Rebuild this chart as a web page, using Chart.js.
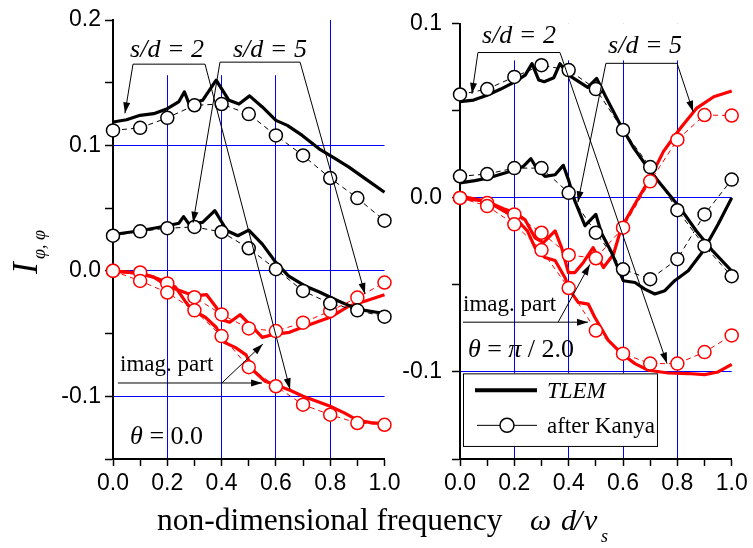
<!DOCTYPE html>
<html>
<head>
<meta charset="utf-8">
<script src="https://cdn.jsdelivr.net/npm/chart.js@4.4.1/dist/chart.umd.min.js"></script>
<style>
  html, body { margin: 0; padding: 0; background: #fff; }
  #page { position: relative; width: 753px; height: 548px; overflow: hidden; background: #fff; }
  canvas { position: absolute; top: 0; }
</style>
</head>
<body>
<div id="page">
  <canvas id="leftChart" width="420" height="548" style="left:0px"></canvas>
  <canvas id="rightChart" width="373" height="548" style="left:380px"></canvas>
  <canvas id="titles" width="753" height="548" style="left:0px"></canvas>
</div>
<script>
// frequencies of the "after Kanya" points
const KX = [0, 0.1, 0.2, 0.3, 0.4, 0.5, 0.6, 0.7, 0.8, 0.9, 1.0];
const X_TICKS = [0, 0.1, 0.2, 0.3, 0.4, 0.5, 0.6, 0.7, 0.8, 0.9, 1.0];
const X_GRID = [0.2, 0.4, 0.6, 0.8];
const Y_TICKS_LEFT = [-0.15, -0.1, -0.05, 0, 0.05, 0.1, 0.15, 0.2];
const Y_TICKS_RIGHT = [-0.15, -0.1, -0.05, 0, 0.05, 0.1];
const Y_GRID_LEFT = [0.1, 0, -0.1];
const Y_GRID_RIGHT = [0, -0.1];

// theta = 0.0 panel
const L_kanyaRe2 = [0.112, 0.114, 0.122, 0.132, 0.133, 0.125, 0.108, 0.092, 0.074, 0.058, 0.040];
const L_kanyaRe5 = [0.028, 0.0315, 0.034, 0.035, 0.031, 0.018, 0.0013, -0.016, -0.026, -0.0315, -0.0365];
const L_kanyaIm2 = [0, -0.008, -0.0173, -0.0315, -0.052, -0.0768, -0.092, -0.1067, -0.1147, -0.1213, -0.1227];
const L_kanyaIm5 = [0, -0.0013, -0.010, -0.021, -0.0347, -0.0459, -0.048, -0.0413, -0.032, -0.0213, -0.0093];

const L_tlemRe2X = [0, 0.05, 0.1, 0.15, 0.2, 0.243, 0.263, 0.28, 0.33, 0.38, 0.427, 0.464, 0.503, 0.55, 0.6, 0.642, 0.697, 0.759, 0.82, 0.869, 0.93, 1.0];
const L_tlemRe2Y = [0.1187, 0.1205, 0.124, 0.1253, 0.1293, 0.135, 0.1427, 0.1333, 0.136, 0.152, 0.136, 0.133, 0.1395, 0.1307, 0.120, 0.116, 0.108, 0.0973, 0.0893, 0.0827, 0.0733, 0.0627];
const L_tlemRe5X = [0, 0.1, 0.2, 0.243, 0.26, 0.28, 0.33, 0.375, 0.42, 0.46, 0.5, 0.55, 0.6, 0.646, 0.707, 0.756, 0.83, 0.903, 1.0];
const L_tlemRe5Y = [0.029, 0.032, 0.036, 0.038, 0.0432, 0.0373, 0.0387, 0.048, 0.032, 0.028, 0.0325, 0.0213, 0.0067, -0.004, -0.012, -0.0165, -0.024, -0.0307, -0.034];
const L_tlemIm2X = [0, 0.1, 0.15, 0.2, 0.23, 0.265, 0.29, 0.34, 0.38, 0.41, 0.45, 0.49, 0.52, 0.56, 0.6, 0.65, 0.7, 0.75, 0.8, 0.85, 0.9, 0.95, 1.0];
const L_tlemIm2Y = [0, -0.002, -0.005, -0.009, -0.013, -0.024, -0.031, -0.037, -0.045, -0.057, -0.061, -0.067, -0.080, -0.088, -0.091, -0.095, -0.100, -0.104, -0.108, -0.113, -0.119, -0.121, -0.122];
const L_tlemIm5X = [0, 0.1, 0.15, 0.2, 0.25, 0.3, 0.345, 0.38, 0.4, 0.43, 0.468, 0.51, 0.55, 0.59, 0.65, 0.71, 0.8, 0.87, 0.93, 1.0];
const L_tlemIm5Y = [0, -0.002, -0.005, -0.012, -0.016, -0.020, -0.019, -0.029, -0.039, -0.041, -0.035, -0.044, -0.053, -0.0507, -0.049, -0.044, -0.037, -0.028, -0.024, -0.019];

// theta = pi/2 panel
const R_kanyaRe2 = [0.0594, 0.0625, 0.0695, 0.0762, 0.0734, 0.0625, 0.039, 0.0177, -0.0071, -0.0276, -0.045];
const R_kanyaRe5 = [0.0124, 0.0137, 0.0171, 0.0171, 0.0029, -0.020, -0.041, -0.0467, -0.0352, -0.0095, 0.0105];
const R_kanyaIm2 = [0, -0.0047, -0.0152, -0.030, -0.0518, -0.0762, -0.0895, -0.0952, -0.0952, -0.0886, -0.079];
const R_kanyaIm5 = [0, -0.0029, -0.0095, -0.020, -0.0328, -0.0347, -0.0171, 0.0095, 0.0334, 0.0476, 0.0473];

const R_tlemRe2X = [0, 0.05, 0.1, 0.15, 0.2, 0.24, 0.265, 0.29, 0.31, 0.345, 0.368, 0.4, 0.43, 0.47, 0.503, 0.54, 0.59, 0.64, 0.7, 0.76, 0.81, 0.87, 0.93, 1.0];
const R_tlemRe2Y = [0.0553, 0.0562, 0.059, 0.0625, 0.0665, 0.0705, 0.0771, 0.0677, 0.0667, 0.069, 0.0771, 0.0705, 0.0675, 0.0635, 0.0686, 0.057, 0.042, 0.0286, 0.0153, 0.0038, -0.0057, -0.019, -0.0305, -0.042];
const R_tlemRe5X = [0, 0.055, 0.104, 0.165, 0.202, 0.233, 0.261, 0.282, 0.313, 0.35, 0.38, 0.399, 0.423, 0.46, 0.5, 0.52, 0.558, 0.601, 0.644, 0.68, 0.717, 0.754, 0.79, 0.84, 0.895, 0.95, 1.0];
const R_tlemRe5Y = [0.0086, 0.0099, 0.0114, 0.0143, 0.0162, 0.0181, 0.0225, 0.0171, 0.0124, 0.0133, 0.0187, 0.0105, -0.0019, -0.016, -0.0095, -0.020, -0.0314, -0.0476, -0.0486, -0.0524, -0.0552, -0.0533, -0.0476, -0.0419, -0.0305, -0.0152, 0.0];
const R_tlemIm2X = [0, 0.1, 0.2, 0.248, 0.276, 0.313, 0.35, 0.386, 0.405, 0.435, 0.472, 0.496, 0.546, 0.595, 0.644, 0.693, 0.766, 0.84, 0.9, 0.95, 1.0];
const R_tlemIm2Y = [0, -0.002, -0.011, -0.019, -0.0286, -0.0343, -0.036, -0.0457, -0.0533, -0.060, -0.061, -0.0686, -0.0819, -0.0895, -0.0952, -0.099, -0.1006, -0.1009, -0.1015, -0.100, -0.0956];
const R_tlemIm5X = [0, 0.1, 0.166, 0.202, 0.239, 0.276, 0.307, 0.35, 0.374, 0.399, 0.423, 0.454, 0.49, 0.528, 0.565, 0.594, 0.65, 0.7, 0.749, 0.811, 0.87, 0.934, 1.0];
const R_tlemIm5Y = [0.001, -0.002, -0.0066, -0.0086, -0.0124, -0.0229, -0.0257, -0.019, -0.0286, -0.0429, -0.0429, -0.0371, -0.0286, -0.040, -0.0324, -0.0171, -0.0019, 0.0114, 0.0267, 0.040, 0.0514, 0.0581, 0.0614];

const BLACK = "#000000";
const RED = "#ff0000";
const BLUE = "#0000ff";
const SANS = '"Liberation Sans", Arial, sans-serif';
const SERIF = '"Liberation Serif", "Times New Roman", serif';

const near = (list, v) => list.some(g => Math.abs(g - v) < 1e-6);
const pts = (xs, ys) => xs.map((x, i) => ({ x: x, y: ys[i] }));

function tlem(xs, ys, color) {
    return { data: pts(xs, ys), showLine: true, borderColor: color, borderWidth: 3.2,
             pointRadius: 0, tension: 0, clip: false, order: 2, borderJoinStyle: "round" };
}

function kanya(ys, color) {
    return { data: pts(KX, ys), showLine: true, borderColor: color, borderWidth: 1,
             borderDash: [5, 4], pointRadius: 6.5, pointBorderWidth: 1.5,
             pointBorderColor: color, pointBackgroundColor: "#fff", tension: 0, clip: false, order: 1 };
}

function xScale() {
    return {
        type: "linear", min: 0, max: 1,
        afterBuildTicks: s => { s.ticks = X_TICKS.map(v => ({ value: v })); },
        afterFit: s => { s.height = 89; },
        ticks: {
            callback: v => (Math.round(v * 10) % 2 === 0 ? v.toFixed(1) : ""),
            font: { family: SANS, size: 23 }, color: BLACK, padding: 4, maxRotation: 0, autoSkip: false
        },
        grid: {
            color: c => (near(X_GRID, c.tick.value) ? BLUE : "rgba(0,0,0,0)"),
            lineWidth: 1, tickColor: BLACK, tickLength: 7, tickWidth: 1.5
        },
        border: { color: BLACK, width: 2 }
    };
}

function yScale(min, max, ticks, grid, width, pad) {
    return {
        type: "linear", min: min, max: max,
        afterBuildTicks: s => { s.ticks = ticks.map(v => ({ value: v })); },
        afterFit: s => { s.width = width; },
        ticks: {
            callback: v => (Math.round(v * 100) % 10 === 0 ? (Math.abs(v) < 1e-9 ? "0.0" : v.toFixed(1)) : ""),
            font: { family: SANS, size: 23 }, color: BLACK, padding: pad, autoSkip: false
        },
        grid: {
            color: c => (near(grid, c.tick.value) ? BLUE : "rgba(0,0,0,0)"),
            lineWidth: 1, tickColor: BLACK, tickLength: 8, tickWidth: 1.5
        },
        border: { color: BLACK, width: 2 }
    };
}

function arrowHead(ctx, x0, y0, x1, y1) {
    const a = Math.atan2(y1 - y0, x1 - x0), L = 11, W = 3.5;
    ctx.beginPath();
    ctx.moveTo(x1, y1);
    ctx.lineTo(x1 - L * Math.cos(a) + W * Math.sin(a), y1 - L * Math.sin(a) - W * Math.cos(a));
    ctx.lineTo(x1 - L * Math.cos(a) - W * Math.sin(a), y1 - L * Math.sin(a) + W * Math.cos(a));
    ctx.closePath();
    ctx.fill();
}

// annotation layer: labels, brackets and arrows placed in data units
function notes(spec) {
    return {
        id: "notes",
        beforeDatasetsDraw(chart) {
            const { ctx, scales: { x, y } } = chart;
            const c = spec.cover;
            const x0 = x.getPixelForValue(c[0]), x1 = x.getPixelForValue(c[1]);
            const y0 = y.getPixelForValue(c[2]), y1 = y.getPixelForValue(c[3]);
            ctx.save();
            ctx.fillStyle = "#fff";
            ctx.fillRect(x0, y0, x1 - x0, y1 - y0);
            ctx.restore();
        },
        afterDatasetsDraw(chart) {
            const { ctx, scales: { x, y } } = chart;
            const px = v => x.getPixelForValue(v), py = v => y.getPixelForValue(v);
            ctx.save();
            ctx.strokeStyle = BLACK;
            ctx.fillStyle = BLACK;
            ctx.lineWidth = 1;
            spec.lines.forEach(l => {
                ctx.beginPath();
                ctx.moveTo(px(l[0]), py(l[1]));
                ctx.lineTo(px(l[2]), py(l[3]));
                ctx.stroke();
            });
            spec.arrows.forEach(a => {
                const ax = px(a[0]), ay = py(a[1]), bx = px(a[2]), by = py(a[3]);
                ctx.beginPath();
                ctx.moveTo(ax, ay);
                ctx.lineTo(bx, by);
                ctx.stroke();
                arrowHead(ctx, ax, ay, bx, by);
            });
            ctx.textBaseline = "alphabetic";
            ctx.textAlign = "left";
            spec.texts.forEach(t => {
                let cx = px(t.x);
                t.parts.forEach(p => {
                    ctx.font = p[1];
                    ctx.fillText(p[0], cx, py(t.y));
                    cx += ctx.measureText(p[0]).width;
                });
            });
            if (spec.legend) {
                const g = spec.legend;
                const bx = px(g[0]), by = py(g[2]), bw = px(g[1]) - bx, bh = py(g[3]) - by;
                ctx.fillStyle = "#fff";
                ctx.fillRect(bx, by, bw, bh);
                ctx.strokeStyle = BLACK;
                ctx.lineWidth = 1;
                ctx.strokeRect(bx + 0.5, by + 0.5, bw, bh);
                ctx.lineWidth = 4;
                ctx.beginPath();
                ctx.moveTo(bx + 12, by + 17);
                ctx.lineTo(bx + 74, by + 17);
                ctx.stroke();
                ctx.lineWidth = 1;
                ctx.beginPath();
                ctx.moveTo(bx + 14, by + 52);
                ctx.lineTo(bx + 74, by + 52);
                ctx.stroke();
                ctx.beginPath();
                ctx.arc(bx + 44, by + 52, 7, 0, Math.PI * 2);
                ctx.fillStyle = "#fff";
                ctx.fill();
                ctx.lineWidth = 1.5;
                ctx.stroke();
                ctx.fillStyle = BLACK;
                ctx.font = "italic 23px " + SERIF;
                ctx.fillText("TLEM", bx + 84, by + 25);
                ctx.font = "23px " + SERIF;
                ctx.fillText("after Kanya", bx + 84, by + 60);
            }
            ctx.restore();
        }
    };
}

const IT26 = "italic 26px " + SERIF;
const UP26 = "26px " + SERIF;
const UP23 = "23px " + SERIF;

const leftNotes = {
    cover: [0.018, 0.755, 0.2, 0.156],
    lines: [[0.0737, 0.1648, 0.339, 0.1648], [0.394, 0.1664, 0.689, 0.1664]],
    arrows: [
        [0.0737, 0.1648, 0.044, 0.1256], [0.339, 0.1648, 0.652, -0.0944],
        [0.394, 0.1664, 0.295, 0.0384], [0.689, 0.1664, 0.928, -0.0184],
        [0.018, -0.0894, 0.549, -0.0894], [0.401, -0.0894, 0.552, -0.0584]
    ],
    texts: [
        { x: 0.063, y: 0.1704, parts: [["s/d = 2", IT26]] },
        { x: 0.442, y: 0.1704, parts: [["s/d = 5", IT26]] },
        { x: 0.026, y: -0.080, parts: [["imag. part", UP23]] },
        { x: 0.063, y: -0.1384, parts: [["θ", IT26], [" = 0.0", UP26]] }
    ]
};

const rightNotes = {
    cover: [0.02, 0.83, 0.1, 0.079],
    lines: [[0.066, 0.0835, 0.368, 0.0835], [0.537, 0.0773, 0.799, 0.0773]],
    arrows: [
        [0.066, 0.0835, 0.044, 0.0598], [0.368, 0.0835, 0.762, -0.0952],
        [0.799, 0.0773, 0.858, 0.0495], [0.537, 0.0773, 0.434, -0.0025],
        [0.011, -0.0714, 0.471, -0.0714], [0.361, -0.0714, 0.478, -0.0382]
    ],
    texts: [
        { x: 0.081, y: 0.089, parts: [["s/d = 2", IT26]] },
        { x: 0.545, y: 0.0833, parts: [["s/d = 5", IT26]] },
        { x: 0.011, y: -0.0647, parts: [["imag. part", UP23]] },
        { x: 0.029, y: -0.0916, parts: [["θ", IT26], [" = ", UP26], ["π", IT26], [" / 2.0", UP26]] }
    ],
    legend: [0.011, 0.725, -0.1008, -0.1425]
};

function makeChart(id, datasets, yOpts, padding, plugin) {
    return new Chart(document.getElementById(id).getContext("2d"), {
        type: "scatter",
        data: { datasets: datasets },
        options: {
            responsive: false,
            animation: false,
            events: [],
            layout: { padding: padding },
            plugins: { legend: { display: false }, tooltip: { enabled: false } },
            scales: { x: xScale(), y: yOpts }
        },
        plugins: [plugin]
    });
}

makeChart("leftChart", [
    kanya(L_kanyaRe2, BLACK), kanya(L_kanyaRe5, BLACK),
    kanya(L_kanyaIm2, RED), kanya(L_kanyaIm5, RED),
    tlem(L_tlemRe2X, L_tlemRe2Y, BLACK), tlem(L_tlemRe5X, L_tlemRe5Y, BLACK),
    tlem(L_tlemIm2X, L_tlemIm2Y, RED), tlem(L_tlemIm5X, L_tlemIm5Y, RED)
], yScale(-0.15, 0.2, Y_TICKS_LEFT, Y_GRID_LEFT, 113, 4),
   { left: 0, right: 35.5, top: 20, bottom: 0 }, notes(leftNotes));

makeChart("rightChart", [
    kanya(R_kanyaRe2, BLACK), kanya(R_kanyaRe5, BLACK),
    kanya(R_kanyaIm2, RED), kanya(R_kanyaIm5, RED),
    tlem(R_tlemRe2X, R_tlemRe2Y, BLACK), tlem(R_tlemRe5X, R_tlemRe5Y, BLACK),
    tlem(R_tlemIm2X, R_tlemIm2Y, RED), tlem(R_tlemIm5X, R_tlemIm5Y, RED)
], yScale(-0.15, 0.1, Y_TICKS_RIGHT, Y_GRID_RIGHT, 80, 10),
   { left: 0, right: 21.3, top: 21, bottom: 0 }, notes(rightNotes));

// shared axis titles
const tctx = document.getElementById("titles").getContext("2d");
tctx.fillStyle = BLACK;
tctx.textBaseline = "alphabetic";
tctx.font = "31.5px " + SERIF;
tctx.fillText("non-dimensional frequency", 157, 530);
tctx.font = "italic 30px " + SERIF;
tctx.fillText("ω", 530, 530);
tctx.fillText("d", 561, 530);
tctx.fillText("/", 574, 530);
tctx.fillText("v", 584, 530);
tctx.font = "italic 18px " + SERIF;
tctx.fillText("s", 601, 542);

tctx.save();
tctx.translate(37, 274);
tctx.rotate(-Math.PI / 2);
tctx.font = "italic 35px " + SERIF;
tctx.fillText("I", 0, 0);
tctx.font = "italic 18px " + SERIF;
tctx.fillText("φ, φ", 15, 8);
tctx.restore();
</script>
</body>
</html>
